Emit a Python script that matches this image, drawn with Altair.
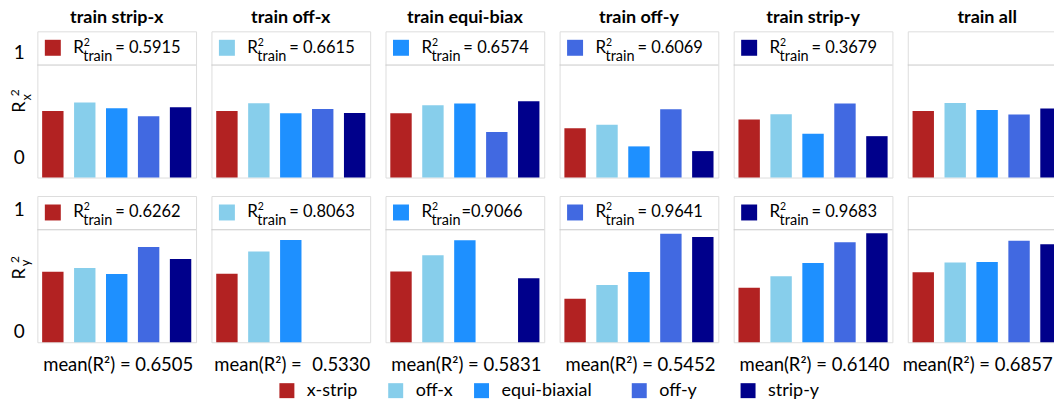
import altair as alt
import pandas as pd

# ---------------- data ----------------
types = ["x-strip", "off-x", "equi-biaxial", "off-y", "strip-y"]
colors = ["#b22222", "#87ceeb", "#1e90ff", "#4169e1", "#00008b"]
panel_titles = ["train strip-x", "train off-x", "train equi-biax",
                "train off-y", "train strip-y", "train all"]
train_type_index = [0, 1, 2, 3, 4, None]

rx_values = [
    [0.5915, 0.667, 0.616, 0.545, 0.625],
    [0.592, 0.6615, 0.571, 0.610, 0.574],
    [0.571, 0.643, 0.6574, 0.405, 0.679],
    [0.4375, 0.470, 0.277, 0.6069, 0.235],
    [0.515, 0.5625, 0.390, 0.658, 0.3679],
    [0.592, 0.663, 0.601, 0.560, 0.613],
]
ry_values = [
    [0.6262, 0.661, 0.607, 0.846, 0.741],
    [0.610, 0.8063, 0.908, None, None],
    [0.628, 0.774, 0.9066, None, 0.569],
    [0.387, 0.509, 0.625, 0.9641, 0.935],
    [0.485, 0.586, 0.705, 0.890, 0.9683],
    [0.622, 0.708, 0.714, 0.902, 0.872],
]
r2_train_x = ["= 0.5915", "= 0.6615", "= 0.6574", "= 0.6069", "= 0.3679", None]
r2_train_y = ["= 0.6262", "= 0.8063", "=0.9066", "= 0.9641", "= 0.9683", None]
mean_r2 = ["0.6505", "\u200a 0.5330", "0.5831", "0.5452", "0.6140", "0.6857"]
ylabel_subscripts = ["x", "y"]
legend_label_pad = [4, 2, 6, 7, 0]   # extra gap (in no-break spaces) after each legend label

# ---------------- style ----------------
FONT = "Lato"
GRAY = "#c9c9c9"
W, H = 159, 146.5
YMAX = 1.3
one = pd.DataFrame({"a": [0]})

pad_cases = " ".join(
    f"datum.label == '{t}' ? '{t}' + '{chr(160) * n}{chr(0x200b)}' :"
    for t, n in zip(types, legend_label_pad) if n > 0
)
legend_label_expr = f"{pad_cases} datum.label"


def txt(text, x, y, size, **kw):
    return alt.Chart(one).mark_text(
        text=text, font=FONT, fontSize=size, color="black",
        align=kw.pop("align", "left"), baseline=kw.pop("baseline", "alphabetic"), **kw
    ).encode(x=alt.value(x), y=alt.value(y))


def panel(col, row):
    vals = rx_values[col] if row == 0 else ry_values[col]
    df = pd.DataFrame({"type": types, "value": vals})
    if row == 1:
        xaxis = alt.Axis(title=f"mean(R\u00b2) = {mean_r2[col]}", labels=False, ticks=False,
                         domain=False, grid=False, titleFont=FONT, titleFontSize=18.5,
                         titleFontWeight="normal", titleColor="black", titlePadding=13,
                         titleX=69.5 if col == 5 else W / 2 + 1)
    else:
        xaxis = None
    if col == 0:
        ticks_at = [0.178, 1.113] if row == 0 else [0.098, 1.178]
        yaxis = alt.Axis(values=ticks_at, labelExpr="datum.value > 0.5 ? '1' : '0'",
                         ticks=False, tickSize=0, domain=False, grid=False, title=None,
                         labelFont=FONT, labelFontSize=19, labelColor="black",
                         labelPadding=13)
    else:
        yaxis = None
    bars = alt.Chart(df).mark_bar().encode(
        x=alt.X("type:N", sort=types,
                scale=alt.Scale(domain=types, paddingInner=0.33, paddingOuter=0.15),
                axis=xaxis),
        y=alt.Y("value:Q", scale=alt.Scale(domain=[0, YMAX], nice=False), axis=yaxis),
        color=alt.Color("type:N", sort=types,
                        scale=alt.Scale(domain=types, range=colors),
                        legend=alt.Legend(
                            orient="none", legendX=241, legendY=351, direction="horizontal",
                            columns=5, title=None, symbolType="square", symbolSize=225,
                            symbolStrokeWidth=0, symbolOpacity=1, labelFont=FONT,
                            labelFontSize=18, labelColor="black", labelOffset=11,
                            columnPadding=10, padding=0, labelExpr=legend_label_expr)),
    )
    rule = alt.Chart(one).mark_rule(color=GRAY, strokeWidth=1).encode(y=alt.datum(1.0))
    layers = [bars, rule]
    idx = train_type_index[col]
    if idx is not None:
        label = r2_train_x[col] if row == 0 else r2_train_y[col]
        eq_x = 76 if label.startswith("=0") else 78
        layers += [
            alt.Chart(one).mark_square(size=256, color=colors[idx], opacity=1)
            .encode(x=alt.value(15.5), y=alt.value(16.5)),
            txt("R", 36, 21.5, 17),
            txt("2", 46.5, 14.5, 10.5),
            txt("train", 46, 29.5, 14.5),
            txt(label, eq_x, 21.5, 16.5),
        ]
    if col == 0:
        if row == 0:
            layers += [
                txt("R", -12, 76, 18, angle=270, align="center"),
                txt(ylabel_subscripts[0], -6, 66, 13, angle=270, align="center"),
                txt("2", -18, 61.7, 12, angle=270, align="center"),
            ]
        else:
            layers += [
                txt("R", -12, 78, 18, angle=270, align="center"),
                txt(ylabel_subscripts[1], -7, 67, 13, angle=270, align="center"),
                txt("2", -18, 63.7, 12, angle=270, align="center"),
            ]
    ch = alt.layer(*layers).properties(width=W, height=H)
    if row == 0:
        ch = ch.properties(title=alt.TitleParams(panel_titles[col], font=FONT, fontSize=18,
                                                 fontWeight="bold", color="black",
                                                 offset=4, anchor="middle"))
    return ch


panels = [panel(c, 0) for c in range(6)] + [panel(c, 1) for c in range(6)]
chart = alt.concat(*panels, columns=6, spacing={"row": 18, "column": 15.4},
                   bounds="flush").properties(
    padding={"left": 0.4, "top": 0, "right": -13.5, "bottom": 0}
).configure_view(stroke=GRAY, strokeWidth=1).configure(background="white")

chart.save("out.html", embed_options={"renderer": "svg", "actions": False})
